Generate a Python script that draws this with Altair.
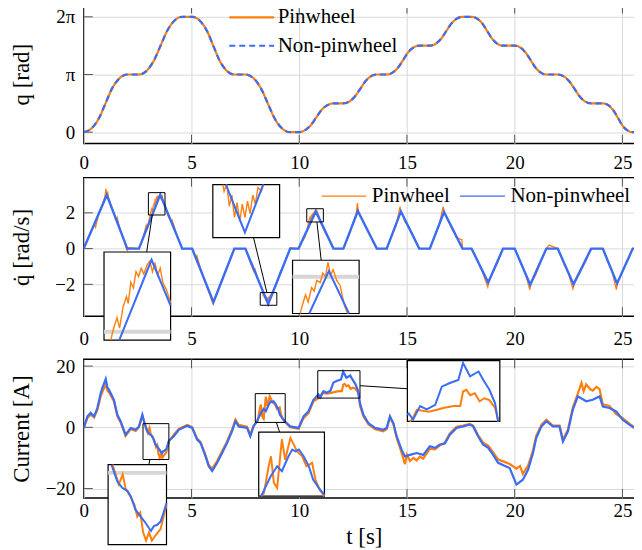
import altair as alt
import pandas as pd

ORANGE = "#ff7f0e"
BLUE = "#3a6cf4"
FONT = "Liberation Serif"
SERIES = ["Pinwheel", "Non-pinwheel"]
X_TICKS = [0, 5, 10, 15, 20, 25]

# ---------------- Panel 1: joint angle q (multiples of pi) ----------------
q_t = [0.00, 0.40, 0.71, 1.01, 1.31, 1.62, 2.02,
       2.56, 2.96, 3.26, 3.565, 3.87, 4.17, 4.57,
       5.03, 5.42, 5.72, 6.01, 6.30, 6.60, 6.99,
       7.50, 7.92, 8.23, 8.54, 8.85, 9.16, 9.58,
       9.97, 10.29, 10.54, 10.78, 11.02, 11.27, 11.59,
       12.05, 12.36, 12.59, 12.83, 13.06, 13.29, 13.60,
       14.06, 14.36, 14.59, 14.82, 15.04, 15.27, 15.57,
       16.06, 16.36, 16.59, 16.82, 17.05, 17.28, 17.58,
       18.00, 18.29, 18.51, 18.73, 18.95, 19.17, 19.46,
       20.00, 20.29, 20.51, 20.74, 20.96, 21.18, 21.47,
       22.00, 22.31, 22.54, 22.78, 23.01, 23.24, 23.55,
       24.09, 24.37, 24.58, 24.79, 24.99, 25.20, 25.48,
       26.00]
q_pi = [0.00, 0.08, 0.245, 0.50, 0.755, 0.92, 1.00,
        1.00, 1.08, 1.245, 1.50, 1.755, 1.92, 2.00,
        2.00, 1.92, 1.755, 1.50, 1.245, 1.08, 1.00,
        1.00, 0.92, 0.755, 0.50, 0.245, 0.08, 0.00,
        0.00, 0.04, 0.1225, 0.25, 0.3775, 0.46, 0.50,
        0.50, 0.54, 0.6225, 0.75, 0.8775, 0.96, 1.00,
        1.00, 1.04, 1.1225, 1.25, 1.3775, 1.46, 1.50,
        1.50, 1.54, 1.6225, 1.75, 1.8775, 1.96, 2.00,
        2.00, 1.96, 1.8775, 1.75, 1.6225, 1.54, 1.50,
        1.50, 1.46, 1.3775, 1.25, 1.1225, 1.04, 1.00,
        1.00, 0.96, 0.8775, 0.75, 0.6225, 0.54, 0.50,
        0.50, 0.46, 0.3775, 0.25, 0.1225, 0.04, 0.00,
        0.00]

# ---------------- Panel 2: joint velocity (rad/s) ----------------
qdot_blue = [(0, 0), (1.07, 3.0), (2.02, 0), (2.56, 0), (3.55, 3.02), (4.57, 0),
             (5.03, 0), (6.02, -3.0), (6.99, 0), (7.5, 0), (8.56, -3.1), (9.58, 0),
             (9.97, 0), (10.77, 2.08), (11.59, 0), (12.05, 0), (12.72, 2.1), (13.6, 0),
             (14.06, 0), (14.72, 2.08), (15.57, 0), (16.06, 0), (16.72, 2.05), (17.58, 0),
             (18.0, 0), (18.77, -1.9), (19.46, 0), (20.0, 0), (20.72, -2.02), (21.47, 0),
             (22.0, 0), (22.73, -2.0), (23.55, 0), (24.09, 0), (24.75, -1.95), (25.48, 0),
             (26.0, 0)]
qdot_orange = [(0, 0), (0.3, 0.85), (0.5, 1.35), (0.55, 1.2), (0.7, 2.0), (0.9, 2.6),
               (0.98, 2.9), (1.03, 3.35), (1.07, 2.95), (1.1, 3.2), (1.15, 2.85), (1.3, 2.3),
               (1.5, 1.6), (1.55, 1.75), (1.7, 1.0), (1.9, 0.35), (1.95, 0.1), (2.02, -0.1),
               (2.1, 0.05), (2.56, 0), (2.7, 0.4), (2.9, 1.3), (2.95, 1.1),
               (3.10, 2.0), (3.15, 2.2), (3.18, 2.05), (3.22, 2.35), (3.26, 2.5), (3.28, 2.4),
               (3.31, 2.7), (3.34, 2.62), (3.37, 2.85), (3.40, 2.78), (3.43, 2.9), (3.46, 2.82),
               (3.50, 2.95), (3.53, 3.0), (3.56, 2.85), (3.59, 2.98), (3.62, 2.8), (3.65, 2.9),
               (3.68, 2.7), (3.72, 2.6), (3.76, 2.45),
               (3.9, 1.85), (4.05, 1.5), (4.1, 1.6), (4.3, 0.85), (4.5, 0.2), (4.57, 0),
               (5.03, 0), (5.2, -0.55), (5.25, -0.4), (5.5, -1.45), (5.7, -2.1), (5.9, -2.75),
               (6.0, -3.1), (6.05, -2.85), (6.2, -2.4), (6.5, -1.45), (6.6, -1.2), (6.8, -0.55),
               (6.99, 0), (7.5, 0), (7.7, -0.7), (7.9, -1.3), (7.95, -1.15), (8.1, -1.75),
               (8.2, -2.05), (8.28, -2.3), (8.32, -2.55), (8.35, -2.45), (8.38, -2.75),
               (8.41, -2.6), (8.44, -2.9), (8.47, -2.7), (8.50, -2.95), (8.53, -2.72),
               (8.56, -2.9), (8.59, -2.68), (8.62, -2.85), (8.65, -2.6), (8.68, -2.72),
               (8.71, -2.5), (8.75, -2.55), (8.8, -2.35), (8.9, -2.1),
               (9.0, -1.75), (9.1, -1.35), (9.3, -0.85), (9.5, -0.2), (9.58, 0.05), (9.97, 0),
               (10.1, 0.35), (10.25, 0.6), (10.35, 1.0),
               (10.45, 1.55), (10.5, 1.75), (10.53, 1.65), (10.57, 1.85), (10.6, 1.8),
               (10.63, 1.95), (10.67, 1.92), (10.7, 2.05), (10.73, 2.0), (10.76, 2.2),
               (10.79, 2.02), (10.82, 2.1), (10.86, 1.95), (10.9, 1.88), (10.95, 1.6),
               (11.0, 1.45), (11.2, 0.9), (11.4, 0.5), (11.59, 0), (12.05, 0),
               (12.3, 0.7), (12.5, 1.4), (12.65, 2.0), (12.7, 2.55), (12.75, 2.0), (12.85, 1.8),
               (13.0, 1.4), (13.2, 0.95), (13.4, 0.5), (13.6, 0), (14.06, 0),
               (14.3, 0.7), (14.5, 1.3), (14.68, 2.35), (14.72, 2.0), (14.8, 1.9), (14.9, 1.5),
               (15.1, 1.2), (15.3, 0.7), (15.57, 0), (16.06, 0),
               (16.3, 0.7), (16.5, 1.35), (16.68, 2.35), (16.75, 1.95), (16.9, 1.6),
               (17.1, 1.1), (17.3, 0.6), (17.55, 0.5), (17.58, 0), (18.0, 0),
               (18.3, -0.75), (18.5, -1.3), (18.75, -2.15), (18.8, -1.8), (19.0, -1.3),
               (19.2, -0.8), (19.46, 0), (20.0, 0),
               (20.3, -0.8), (20.5, -1.4), (20.7, -2.3), (20.76, -1.95), (21.0, -1.4),
               (21.2, -0.75), (21.47, 0), (21.6, 0.2), (22.0, 0),
               (22.3, -0.9), (22.5, -1.4), (22.7, -2.25), (22.78, -1.9), (23.0, -1.4),
               (23.3, -0.7), (23.55, 0), (24.09, 0),
               (24.3, -0.7), (24.5, -1.2), (24.72, -2.3), (24.78, -1.85), (25.0, -1.3),
               (25.3, -0.5), (25.48, 0), (26.0, 0)]

# ---------------- Panel 3: motor current (A) ----------------
cur_blue = [(0.0, -0.2), (0.17, 3.6), (0.32, 4.7), (0.48, 3.6), (0.63, 6.3), (0.79, 11.2),
            (0.86, 12.8), (1.02, 15.8), (1.1, 13.0), (1.17, 12.3), (1.40, 9.0), (1.56, 4.1),
            (1.71, 2.0), (1.94, -2.4), (2.18, -0.2), (2.41, -0.8), (2.56, 0.3), (2.72, 4.1),
            (2.83, 0.97), (2.94, -1.26), (3.04, -2.19), (3.15, -2.66), (3.22, -3.48),
            (3.31, -5.35), (3.42, -6.4), (3.52, -7.34), (3.63, -8.5), (3.69, -7.8),
            (3.76, -7.6), (3.83, -7.1), (3.89, -5.8), (3.95, -4.4), (4.18, -2.9),
            (4.41, -0.8), (4.80, 0.5), (5.03, -0.2), (5.26, -4.0), (5.42, -5.1),
            (5.65, -9.5), (5.80, -12.7), (5.96, -14.3), (6.19, -11.6), (6.42, -8.4),
            (6.65, -5.1), (6.88, -1.3), (7.04, 2.0), (7.19, 0.3), (7.58, -0.2),
            (7.73, -2.9), (7.88, 0.3), (8.03, 1.88), (8.21, 4.5), (8.35, 6.0), (8.45, 5.27),
            (8.59, 7.47), (8.67, 8.46), (8.74, 8.18), (8.81, 8.46), (8.91, 7.47),
            (9.02, 6.0), (9.11, 4.04), (9.23, 2.82), (9.34, 1.88), (9.58, 0.3),
            (9.97, -0.2), (10.2, 3.6), (10.43, 5.2), (10.66, 9.0), (10.89, 10.7),
            (10.98, 9.8), (11.13, 11.8), (11.27, 11.3), (11.45, 11.97), (11.59, 14.65),
            (11.76, 15.19), (11.94, 15.64), (12.04, 18.14), (12.19, 16.17), (12.37, 16.89),
            (12.47, 15.64), (12.60, 14.2), (12.72, 12.2), (12.82, 7.9), (12.98, 4.1),
            (13.21, 1.4), (13.52, -0.2), (13.9, -0.8), (14.06, -0.2), (14.21, 3.6),
            (14.37, 1.4), (14.52, -2.9), (14.75, -7.3), (14.91, -9.5), (15.14, -9.0),
            (15.45, -8.4), (15.76, -9.0), (16.06, -6.2), (16.30, -6.7), (16.53, -5.6),
            (16.76, -5.3), (16.99, -2.4), (17.30, -0.2), (17.61, 0.3), (17.92, 0.9),
            (18.07, 0.3), (18.3, -2.9), (18.53, -5.6), (18.77, -6.7), (19.0, -9.0),
            (19.23, -11.6), (19.5, -12.5), (19.77, -13.3), (20.08, -18.7), (20.38, -17.1),
            (20.62, -13.9), (20.85, -8.4), (21.0, -3.5), (21.24, 0.3), (21.47, 2.0),
            (21.77, 0.3), (22.08, 0.3), (22.24, -4.6), (22.47, -1.3), (22.7, 5.8),
            (22.93, 10.1), (23.32, 8.5), (23.62, 9.0), (23.94, 10.1), (24.09, 6.8),
            (24.40, 6.3), (24.71, 5.2), (25.01, 2.5), (25.32, 0.9), (25.63, -0.6),
            (26.0, -0.6)]
cur_orange = [(0.0, -0.2), (0.17, 3.0), (0.32, 4.2), (0.48, 3.2), (0.63, 5.6), (0.79, 10.2),
              (0.86, 11.5), (1.02, 14.0), (1.1, 12.0), (1.17, 11.5), (1.40, 8.5), (1.56, 3.6),
              (1.71, 1.6), (1.94, -2.8), (2.18, -0.6), (2.41, -1.2), (2.56, 0.0), (2.72, 3.6),
              (2.87, 0.6), (2.97, -1.7), (3.05, -0.2), (3.11, -2.3), (3.21, -3.5),
              (3.29, -4.65), (3.35, -6.4), (3.41, -5.8), (3.47, -8.7), (3.53, -9.9),
              (3.59, -8.7), (3.65, -9.9), (3.73, -9.1), (3.83, -8.2), (3.95, -4.65),
              (4.18, -2.4), (4.41, -0.5), (4.80, 0.8), (5.03, 0.1), (5.26, -3.6), (5.42, -4.8),
              (5.65, -9.0), (5.80, -12.3), (5.96, -13.5), (6.19, -11.0), (6.42, -7.8),
              (6.65, -4.6), (6.88, -0.8), (7.04, 2.5), (7.19, 0.8), (7.58, 0.2), (7.73, -2.5),
              (7.88, 0.5), (8.07, 2.07), (8.17, 6.0), (8.22, 7.47), (8.28, 3.57), (8.35, 2.82),
              (8.45, 9.97), (8.52, 6.96), (8.63, 10.15), (8.70, 9.21), (8.77, 8.18),
              (8.88, 7.47), (8.97, 6.0), (9.09, 6.49), (9.16, 4.04), (9.25, 2.54), (9.34, 1.69),
              (9.58, 0.0), (9.97, -0.5), (10.2, 3.0), (10.43, 4.6), (10.66, 8.5), (10.89, 9.5),
              (10.96, 9.8), (11.06, 11.25), (11.31, 10.98), (11.49, 11.25), (11.62, 11.52),
              (11.84, 11.79), (11.98, 11.79), (12.04, 13.94), (12.11, 14.2), (12.19, 13.4),
              (12.29, 13.67), (12.39, 12.5), (12.49, 12.95), (12.60, 12.68), (12.72, 11.52),
              (12.78, 9.8), (12.82, 7.0), (12.98, 3.5), (13.21, 1.0), (13.52, -0.6),
              (13.9, -1.3), (14.06, -0.6), (14.21, 3.2), (14.37, 1.0), (14.52, -3.4),
              (14.75, -8.3), (14.91, -12.0), (15.0, -9.0), (15.14, -11.0), (15.3, -10.0),
              (15.45, -10.8), (15.6, -9.6), (15.76, -10.2), (16.06, -7.0), (16.30, -7.2),
              (16.53, -5.9), (16.76, -5.0), (16.99, -2.0), (17.30, 0.2), (17.61, 0.6),
              (17.92, 1.1), (18.07, 0.6), (18.3, -2.5), (18.53, -5.0), (18.77, -6.0),
              (19.0, -8.2), (19.23, -10.5), (19.5, -11.2), (19.77, -12.0), (20.08, -13.5),
              (20.25, -12.6), (20.38, -15.2), (20.62, -12.5), (20.85, -7.5), (21.0, -2.8),
              (21.24, 0.8), (21.47, 2.5), (21.77, 0.6), (22.08, 0.6), (22.24, -4.0),
              (22.47, -0.8), (22.7, 6.5), (22.93, 11.0), (23.1, 14.5), (23.2, 11.8),
              (23.32, 14.0), (23.5, 12.5), (23.62, 12.0), (23.8, 13.2), (23.94, 12.5),
              (24.09, 7.5), (24.40, 7.0), (24.71, 4.3), (25.01, 3.0), (25.32, 1.2),
              (25.63, -0.3), (26.0, -0.4)]

# ---------------- zoom insets: source window / inset placement (data units) ----------------
QDOT_INSETS = [
    dict(src=(3.00, 3.77, 1.88, 3.13), dst=(0.94, 4.03, -5.12, -0.19),
         link=(3.18, 1.88, 2.92, -0.19), grid=[2]),
    dict(src=(8.19, 8.96, -3.17, -2.46), dst=(5.99, 9.09, 0.61, 3.58),
         link=(8.50, -2.46, 7.88, 0.61), grid=[]),
    dict(src=(10.35, 11.12, 1.49, 2.23), dst=(9.69, 12.78, -3.63, -0.65),
         link=(10.82, 1.49, 11.02, -0.65), grid=[2]),
]
CUR_INSETS = [
    dict(src=(2.75, 3.95, -10.5, 1.2), dst=(1.13, 3.84, -38.3, -12.2),
         link=(3.07, -10.5, 3.02, -12.2), grid=[0]),
    dict(src=(7.96, 9.35, 1.6, 11.0), dst=(8.12, 11.17, -22.5, -1.6),
         link=(8.94, 1.6, 9.09, -1.6), grid=[]),
    dict(src=(10.86, 12.82, 9.55, 18.5), dst=(15.02, 19.31, 1.96, 21.8),
         link=(12.82, 13.6, 15.02, 12.6), grid=[]),
]


def pairs_df(pairs, name):
    return pd.DataFrame({"x": [p[0] for p in pairs], "y": [p[1] for p in pairs], "series": name})


def clip_segments(pairs, x0, x1, y0, y1):
    pieces, cur = [], []
    for (xa, ya), (xb, yb) in zip(pairs[:-1], pairs[1:]):
        dx, dy = xb - xa, yb - ya
        u0, u1, ok = 0.0, 1.0, True
        for p, q in ((-dx, xa - x0), (dx, x1 - xa), (-dy, ya - y0), (dy, y1 - ya)):
            if p == 0:
                if q < 0:
                    ok = False
                    break
            else:
                r = q / p
                if p < 0:
                    u0 = max(u0, r)
                else:
                    u1 = min(u1, r)
        if not ok or u0 > u1:
            if cur:
                pieces.append(cur)
                cur = []
            continue
        a = (xa + u0 * dx, ya + u0 * dy)
        b = (xa + u1 * dx, ya + u1 * dy)
        if u0 > 0 and cur:
            pieces.append(cur)
            cur = []
        if not cur:
            cur = [a]
        cur.append(b)
        if u1 < 1:
            pieces.append(cur)
            cur = []
    if cur:
        pieces.append(cur)
    return pieces


def magnify(pairs, ins, tag):
    sx0, sx1, sy0, sy1 = ins["src"]
    dx0, dx1, dy0, dy1 = ins["dst"]
    rows = []
    for k, piece in enumerate(clip_segments(pairs, sx0, sx1, sy0, sy1)):
        for i, (x, y) in enumerate(piece):
            rows.append(dict(x=dx0 + (x - sx0) / (sx1 - sx0) * (dx1 - dx0),
                             y=dy0 + (y - sy0) / (sy1 - sy0) * (dy1 - dy0),
                             piece=f"{tag}{k}", i=i))
    return rows


def inset_layers(insets, orange, blue, X, Y, w_orange, w_blue):
    boxes, links, frames, grids, o_rows, b_rows = [], [], [], [], [], []
    for n, ins in enumerate(insets):
        sx0, sx1, sy0, sy1 = ins["src"]
        dx0, dx1, dy0, dy1 = ins["dst"]
        boxes.append(dict(x=sx0, x2=sx1, y=sy0, y2=sy1))
        frames.append(dict(x=dx0, x2=dx1, y=dy0, y2=dy1))
        xa, ya, xb, yb = ins["link"]
        links.append(dict(x=xa, y=ya, x2=xb, y2=yb))
        for g in ins["grid"]:
            grids.append(dict(x=dx0, x2=dx1, y=dy0 + (g - sy0) / (sy1 - sy0) * (dy1 - dy0)))
        o_rows += magnify(orange, ins, f"o{n}_")
        b_rows += magnify(blue, ins, f"b{n}_")
    layers = [
        alt.Chart(pd.DataFrame(boxes)).mark_rect(fill="transparent", stroke="black", strokeWidth=1)
        .encode(x=X, x2=alt.X2("x2"), y=Y, y2=alt.Y2("y2")),
        alt.Chart(pd.DataFrame(links)).mark_rule(color="black", strokeWidth=1)
        .encode(x=X, x2=alt.X2("x2"), y=Y, y2=alt.Y2("y2")),
        alt.Chart(pd.DataFrame(frames)).mark_rect(fill="white", stroke="black", strokeWidth=1.2)
        .encode(x=X, x2=alt.X2("x2"), y=Y, y2=alt.Y2("y2")),
    ]
    if grids:
        layers.append(alt.Chart(pd.DataFrame(grids)).mark_rule(color="#d6d6d6", strokeWidth=4)
                      .encode(x=X, x2=alt.X2("x2"), y=Y))
    layers.append(alt.Chart(pd.DataFrame(o_rows)).mark_line(color=ORANGE, strokeWidth=w_orange)
                  .encode(x=X, y=Y, detail="piece:N", order="i:Q"))
    layers.append(alt.Chart(pd.DataFrame(b_rows)).mark_line(color=BLUE, strokeWidth=w_blue)
                  .encode(x=X, y=Y, detail="piece:N", order="i:Q"))
    return layers


def tick_layer(X, Y, ydom, yvals, ylen, xlen=0.42):
    # short inward tick marks on the frame, as in the original plot
    rows = []
    for v in yvals:
        rows.append(dict(x=0, x2=xlen, y=v, y2=v))
        rows.append(dict(x=26 - xlen, x2=26, y=v, y2=v))
    for t in X_TICKS[1:]:
        rows.append(dict(x=t, x2=t, y=ydom[0], y2=ydom[0] + ylen))
        rows.append(dict(x=t, x2=t, y=ydom[1] - ylen, y2=ydom[1]))
    return alt.Chart(pd.DataFrame(rows)).mark_rule(color="#555555", strokeWidth=1) \
        .encode(x=X, x2=alt.X2("x2"), y=Y, y2=alt.Y2("y2"))


def x_enc(label_pad, title=None, title_size=23, title_pad=1):
    return alt.X("x:Q", scale=alt.Scale(domain=[0, 26], nice=False, zero=False),
                 axis=alt.Axis(values=X_TICKS, title=title, labelPadding=label_pad,
                               labelFlush=False, titlePadding=title_pad, titleFontSize=title_size))


def y_enc(domain, values, title, label_expr=None):
    kw = dict(values=values, title=title, titleX=-50, titleBaseline="bottom",
              labelPadding=9, labelFlush=False)
    if label_expr:
        kw["labelExpr"] = label_expr
    return alt.Y("y:Q", scale=alt.Scale(domain=domain, nice=False, zero=False), axis=alt.Axis(**kw))


COLOR_SCALE = alt.Scale(domain=SERIES, range=[ORANGE, BLUE])
DASH_SCALE = alt.Scale(domain=SERIES, range=[[1, 0], [6, 4]])

W, H = 562, 139

# ---- panel 1 ----
D1 = [-0.195, 2.207]
X1 = x_enc(10)
Y1 = y_enc(D1, [0, 1, 2], "q [rad]",
           "datum.value == 0 ? '0' : (datum.value == 1 ? 'π' : '2π')")
leg1 = alt.Legend(title=None, orient="none", legendX=156, legendY=0, direction="vertical",
                  symbolType="M-2,0H2", symbolSize=506, symbolStrokeWidth=2.2,
                  labelOffset=13.5, rowPadding=5.5, padding=0, labelFontSize=21)
q_df = pd.concat([pd.DataFrame({"x": q_t, "y": q_pi, "series": s}) for s in SERIES])
p1_layers = [tick_layer(X1, Y1, D1, [0, 1, 2], 0.15)]
for s in SERIES:
    p1_layers.append(
        alt.Chart(q_df[q_df.series == s]).mark_line(strokeWidth=2.2, interpolate="monotone", clip=True)
        .encode(x=X1, y=Y1,
                color=alt.Color("series:N", scale=COLOR_SCALE, legend=leg1),
                strokeDash=alt.StrokeDash("series:N", scale=DASH_SCALE, legend=leg1)))
p1 = alt.layer(*p1_layers).properties(width=W, height=H)

# ---- panel 2 ----
D2 = [-3.78, 3.97]
X2 = x_enc(13, " ", 4)
Y2 = y_enc(D2, [-2, 0, 2], "q\u0307 [rad/s]")
leg2 = alt.Legend(title=None, orient="none", legendX=249, legendY=6.5, direction="horizontal",
                  symbolType="M-2,0H2", symbolSize=506, symbolStrokeWidth=1.3,
                  labelOffset=16, columnPadding=6, padding=0, labelFontSize=21)
qd_df = pd.concat([pairs_df(qdot_orange, SERIES[0]), pairs_df(qdot_blue, SERIES[1])])
p2_layers = [tick_layer(X2, Y2, D2, [-2, 0, 2], 0.5)]
for s, w in zip(SERIES, [1.3, 2.4]):
    p2_layers.append(
        alt.Chart(qd_df[qd_df.series == s]).mark_line(strokeWidth=w, clip=True)
        .encode(x=X2, y=Y2, color=alt.Color("series:N", scale=COLOR_SCALE, legend=leg2)))
p2_layers += inset_layers(QDOT_INSETS, qdot_orange, qdot_blue, X2, Y2, 1.4, 2.0)
p2 = alt.layer(*p2_layers).properties(width=W, height=H)

# ---- panel 3 ----
D3 = [-23.05, 22.2]
X3 = x_enc(4, "t [s]", 23, 5)
Y3 = y_enc(D3, [-20, 0, 20], "Current [A]")
cu_df = pd.concat([pairs_df(cur_orange, SERIES[0]), pairs_df(cur_blue, SERIES[1])])
p3_layers = [tick_layer(X3, Y3, D3, [-20, 0, 20], 2.9)]
for s in SERIES:
    p3_layers.append(
        alt.Chart(cu_df[cu_df.series == s]).mark_line(strokeWidth=2.2, clip=True)
        .encode(x=X3, y=Y3, color=alt.Color("series:N", scale=COLOR_SCALE, legend=None)))
p3_layers += inset_layers(CUR_INSETS, cur_orange, cur_blue, X3, Y3, 2.0, 2.0)
p3 = alt.layer(*p3_layers).properties(width=W, height=H)

RES = dict(color="independent", strokeDash="independent", x="independent", y="independent")
chart = alt.VConcatChart(vconcat=[p1, p2, p3], spacing=2.3) \
    .resolve_scale(**RES).resolve_legend(color="independent", strokeDash="independent")

chart = chart.properties(padding={"left": 2, "top": -6, "right": -12, "bottom": 0}) \
    .configure_axis(labelFont=FONT, titleFont=FONT, labelFontSize=19, titleFontSize=23,
                    labelColor="black", titleColor="black", titleFontWeight="normal",
                    gridColor="#d9d9d9", gridWidth=1, domain=False, ticks=False) \
    .configure_view(stroke="black", strokeWidth=1.5) \
    .configure_legend(labelFont=FONT, labelColor="black")

chart.save("out.html", embed_options={"renderer": "svg", "actions": False})
